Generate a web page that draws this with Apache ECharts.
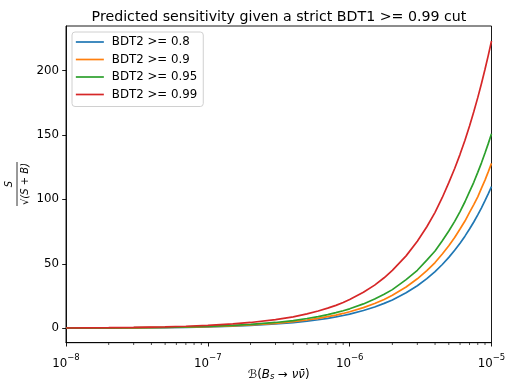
<!DOCTYPE html>
<html>
<head>
<meta charset="utf-8">
<script src="https://cdn.jsdelivr.net/npm/echarts@6/dist/echarts.min.js"></script>
<style>
  html, body { margin: 0; padding: 0; background: #fff; }
  #chart { width: 505px; height: 380px; }
</style>
</head>
<body>
<div id="chart"></div>
<script>
// branching ratio samples (x) and sensitivity for each BDT2 cut
const branchingRatio = [1e-8, 2e-8, 3e-8, 5e-8, 7e-8, 1e-7, 1.5e-7, 2e-7, 3e-7, 4e-7, 5e-7, 6e-7, 7e-7, 8e-7, 9e-7, 1e-6, 1.25e-6, 1.5e-6, 1.75e-6, 2e-6, 2.5e-6, 3e-6, 3.5e-6, 4e-6, 4.5e-6, 5e-6, 5.5e-6, 6e-6, 6.5e-6, 7e-6, 7.5e-6, 8e-6, 8.5e-6, 9e-6, 9.5e-6, 1e-5]
const sensBdt08  = [0.1, 0.2, 0.33, 0.55, 0.77, 1.1, 1.65, 2.2, 3.3, 4.4, 5.5, 6.6, 7.7, 8.8, 9.9, 11, 13.8, 16.5, 19.3, 22, 27.5, 33, 38.5, 44, 49.5, 55, 60.5, 66, 71.5, 77, 82.5, 88, 93.5, 99, 104.5, 110]
const sensBdt09  = [0.13, 0.26, 0.38, 0.64, 0.9, 1.3, 1.9, 2.6, 3.8, 5.1, 6.4, 7.7, 9, 10.2, 11.5, 12.8, 16, 19.2, 22.4, 25.6, 32, 38.4, 44.8, 51, 57.6, 64, 70.4, 77, 83.2, 90, 96, 102, 108.8, 115, 121.6, 128]
const sensBdt095 = [0.15, 0.3, 0.45, 0.75, 1.06, 1.5, 2.3, 3, 4.5, 6, 7.6, 9.1, 10.6, 12.1, 13.6, 15.1, 18.9, 22.7, 26.4, 30, 37.8, 45, 52.9, 60, 68, 75.5, 83, 90.6, 98.2, 106, 113.3, 121, 128.4, 136, 143.5, 151]
const sensBdt099 = [0.22, 0.45, 0.67, 1.1, 1.56, 2.2, 3.4, 4.5, 6.7, 8.9, 11.2, 13.4, 15.6, 17.8, 20, 22.3, 28, 33.5, 39.2, 45, 56.2, 67.5, 78.8, 90, 101.5, 113, 124, 135, 146, 157, 168, 179, 190, 201, 212, 223]

const seriesNames = ['BDT2 >= 0.8', 'BDT2 >= 0.9', 'BDT2 >= 0.95', 'BDT2 >= 0.99']
const seriesColors = ['#1f77b4', '#ff7f0e', '#2ca02c', '#d62728']
const yTicks = [0, 50, 100, 150, 200]
const xMinorTicks = [2e-8, 3e-8, 4e-8, 5e-8, 6e-8, 7e-8, 8e-8, 9e-8,
  2e-7, 3e-7, 4e-7, 5e-7, 6e-7, 7e-7, 8e-7, 9e-7,
  2e-6, 3e-6, 4e-6, 5e-6, 6e-6, 7e-6, 8e-6, 9e-6]

const Y_MIN = -11.2
const Y_MAX = 234.6
const font = "'DejaVu Sans', sans-serif"
const tickSize = 11.8

const allSens = [sensBdt08, sensBdt09, sensBdt095, sensBdt099]

const chart = echarts.init(document.getElementById('chart'), null, { renderer: 'canvas' })

const lines = allSens.map((vals, i) => ({
  name: seriesNames[i],
  type: 'line',
  data: branchingRatio.map((x, j) => [x, vals[j]]),
  symbol: 'none',
  smooth: false,
  lineStyle: { width: 1.7, color: seriesColors[i] },
  itemStyle: { color: seriesColors[i] },
  z: 3 + i,
}))

// minor ticks of the log axis, drawn below the x axis
const minorTicks = {
  type: 'custom',
  silent: true,
  clip: false,
  data: xMinorTicks.map(v => [v]),
  renderItem: (params, api) => {
    const p = api.coord([api.value(0), Y_MIN])
    return {
      type: 'line',
      shape: { x1: p[0], y1: p[1], x2: p[0], y2: p[1] + 2.3 },
      style: { stroke: '#000', lineWidth: 0.7 },
    }
  },
}

const option = {
  animation: false,
  textStyle: { fontFamily: font },
  title: {
    text: 'Predicted sensitivity given a strict BDT1 >= 0.99 cut',
    left: 274, top: 5, textAlign: 'center',
    textStyle: { fontFamily: font, fontSize: 14.2, fontWeight: 'normal', color: '#000' },
  },
  grid: {
    left: 66, right: 13.5, top: 26, bottom: 37.3,
    outerBoundsMode: 'none', containLabel: false,
    show: true, borderColor: '#000', borderWidth: 0.9, backgroundColor: 'transparent',
  },
  legend: {
    data: seriesNames,
    orient: 'vertical',
    left: 72, top: 32,
    itemWidth: 28, itemHeight: 14, itemGap: 5.5,
    padding: [4, 6, 6, 3],
    backgroundColor: 'rgba(255,255,255,0.8)',
    borderColor: '#d0d0d0', borderWidth: 1, borderRadius: 3,
    itemStyle: { opacity: 0 },
    lineStyle: { width: 1.7 },
    textStyle: { fontFamily: font, fontSize: tickSize, color: '#000', padding: [0, 0, 0, 3] },
  },
  xAxis: {
    type: 'log', logBase: 10, min: 1e-8, max: 1e-5,
    name: '{i|ℬ}({i|B}{sub|s} → {i|νν̄})',
    nameLocation: 'middle', nameGap: 25, nameMoveOverlap: false,
    nameTextStyle: {
      fontFamily: font, fontSize: tickSize, color: '#000',
      rich: {
        i: { fontFamily: font, fontStyle: 'italic', fontSize: tickSize, color: '#000' },
        sub: { fontFamily: font, fontStyle: 'italic', fontSize: 8.5, color: '#000', verticalAlign: 'bottom', padding: [5, 0, 0, 0] },
      },
    },
    axisLine: { show: true, onZero: false, lineStyle: { color: '#000', width: 0.9 } },
    axisTick: { show: true, inside: false, length: 3.8, lineStyle: { color: '#000', width: 0.9 } },
    splitLine: { show: false },
    axisLabel: {
      color: '#000', fontFamily: font, fontSize: tickSize, margin: 7,
      formatter: v => '{b|10}{sup|−' + Math.round(-Math.log10(v)) + '}',
      rich: {
        b: { fontSize: tickSize, fontFamily: font, color: '#000', padding: [8, 0, 0, 0] },
        sup: { fontSize: 8.5, fontFamily: font, color: '#000', padding: [0, 0, 4, 0] },
      },
    },
  },
  yAxis: {
    type: 'value', min: Y_MIN, max: Y_MAX,
    axisLine: { show: true, onZero: false, lineStyle: { color: '#000', width: 0.9 } },
    axisTick: { show: true, inside: false, length: 3.8, customValues: yTicks, lineStyle: { color: '#000', width: 0.9 } },
    splitLine: { show: false },
    axisLabel: { color: '#000', fontFamily: font, fontSize: tickSize, margin: 7, customValues: yTicks },
  },
  graphic: [
    {
      type: 'group', x: 20, y: 184, rotation: Math.PI / 2,
      children: [
        { type: 'text', x: 0, y: -6, style: { text: 'S', font: 'italic 10px ' + font, fill: '#000', align: 'center', verticalAlign: 'bottom' } },
        { type: 'line', shape: { x1: -22, y1: -3, x2: 22, y2: -3 }, style: { stroke: '#000', lineWidth: 0.8 } },
        { type: 'text', x: 0, y: 5, style: { text: '√(S + B)', font: 'italic 10px ' + font, fill: '#000', align: 'center', verticalAlign: 'middle' } },
      ],
    },
  ],
  series: [...lines, minorTicks],
}

chart.setOption(option)
</script>
</body>
</html>
